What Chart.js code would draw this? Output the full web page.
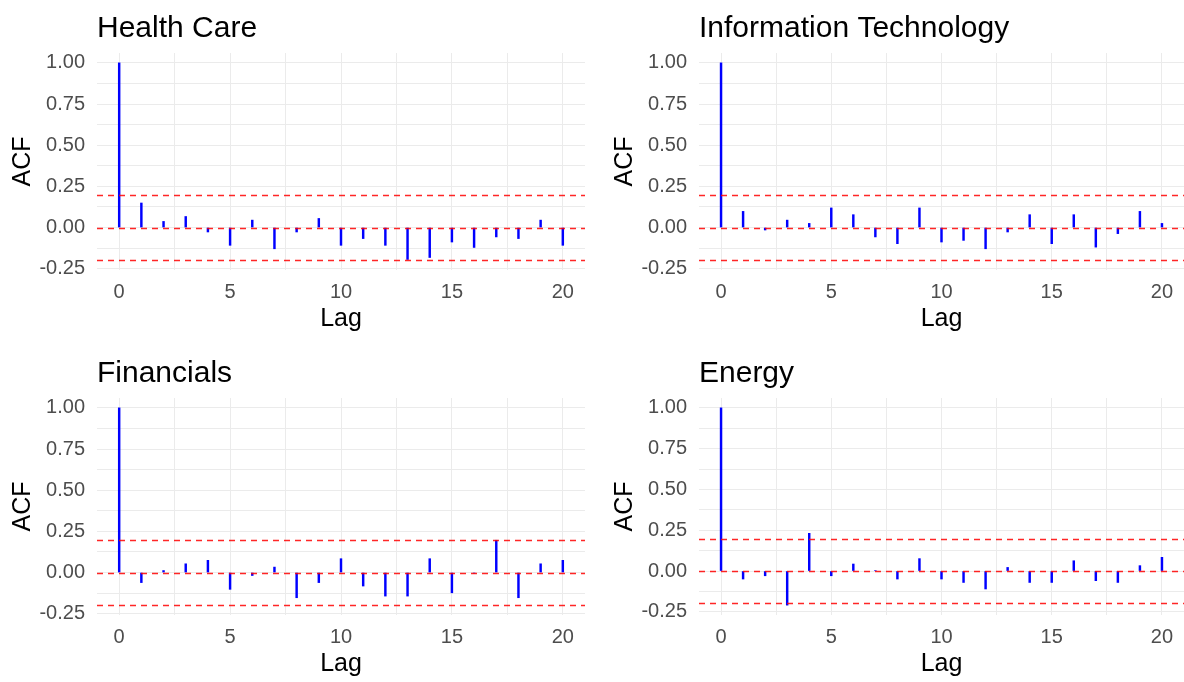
<!DOCTYPE html>
<html>
<head>
<meta charset="utf-8">
<title>ACF by sector</title>
<script src="https://cdn.jsdelivr.net/npm/chart.js@4.4.1/dist/chart.umd.min.js"></script>
<style>
  html, body { margin: 0; padding: 0; background: #ffffff; overflow: hidden; }
  .cell { position: absolute; }
</style>
</head>
<body>
<div class="cell" style="left:0px;top:0px"><canvas id="healthCareChart" width="592" height="341"></canvas></div>
<div class="cell" style="left:602px;top:0px"><canvas id="infoTechChart" width="582" height="341"></canvas></div>
<div class="cell" style="left:0px;top:345px"><canvas id="financialsChart" width="592" height="341"></canvas></div>
<div class="cell" style="left:602px;top:345px"><canvas id="energyChart" width="582" height="341"></canvas></div>

<script>
// lags and autocorrelations
var lags = [0, 1, 2, 3, 4, 5, 6, 7, 8, 9, 10, 11, 12, 13, 14, 15, 16, 17, 18, 19, 20];

var healthCare = [1.000, 0.149, 0.037, 0.067, -0.027, -0.108, 0.045, -0.129, -0.027, 0.055, -0.108,
                  -0.067, -0.108, -0.194, -0.182, -0.088, -0.121, -0.057, -0.067, 0.045, -0.108];
var infoTech = [1.000, 0.098, -0.015, 0.045, 0.025, 0.119, 0.078, -0.057, -0.098, 0.119, -0.088,
                -0.078, -0.129, -0.027, 0.078, -0.098, 0.078, -0.119, -0.037, 0.098, 0.025];
var financials = [1.000, -0.061, 0.012, 0.053, 0.074, -0.102, -0.018, 0.033, -0.153, -0.061, 0.084,
                  -0.082, -0.143, -0.143, 0.084, -0.123, -0.004, 0.196, -0.153, 0.053, 0.074];
var energy = [1.000, -0.049, -0.029, -0.209, 0.231, -0.029, 0.043, 0.003, -0.049, 0.076, -0.049,
              -0.070, -0.110, 0.022, -0.070, -0.070, 0.063, -0.059, -0.070, 0.033, 0.084];

// confidence bound (dashed red lines at +ci, 0, -ci)
var ciBound = 0.198;

var xTickLabels = [0, 5, 10, 15, 20];
var yTickLabels = [-0.25, 0, 0.25, 0.5, 0.75, 1];

var FONT = '"Liberation Sans", Arial, Helvetica, sans-serif';

// majors plus the midpoints between them (minor grid)
function withMinor(majors) {
    var out = [];
    for (var i = 0; i < majors.length; i++) {
        out.push(majors[i]);
        if (i < majors.length - 1) out.push((majors[i] + majors[i + 1]) / 2);
    }
    return out;
}

var refLinesPlugin = {
    id: 'refLines',
    afterDatasetsDraw: function (chart) {
        var ctx = chart.ctx;
        var area = chart.chartArea;
        var yScale = chart.scales.y;
        [ciBound, 0, -ciBound].forEach(function (v) {
            var y = Math.round(yScale.getPixelForValue(v)) + 0.5;
            ctx.save();
            ctx.strokeStyle = 'rgba(255, 0, 0, 0.85)';
            ctx.lineWidth = 1.6;
            ctx.setLineDash([6, 5]);
            ctx.beginPath();
            ctx.moveTo(area.left, y);
            ctx.lineTo(area.right, y);
            ctx.stroke();
            ctx.restore();
        });
    }
};

function makeAcfChart(canvasId, title, values, padRight) {
    var lo = Math.min(Math.min.apply(null, values), -ciBound);
    var hi = Math.max(Math.max.apply(null, values), ciBound);
    var yPad = (hi - lo) * 0.05;
    var xPad = (lags[lags.length - 1] - lags[0]) * 0.05;

    var xTicks = withMinor(xTickLabels);
    var yTicks = withMinor(yTickLabels);

    var ctx = document.getElementById(canvasId).getContext('2d');
    return new Chart(ctx, {
        type: 'bar',
        data: {
            datasets: [{
                label: title,
                data: lags.map(function (l, i) { return { x: l, y: values[i] }; }),
                backgroundColor: '#0000FF',
                borderWidth: 0,
                barThickness: 1.8
            }]
        },
        options: {
            responsive: false,
            animation: false,
            layout: { padding: { left: 0, right: padRight, top: 0, bottom: 0 } },
            plugins: {
                legend: { display: false },
                tooltip: { enabled: false },
                title: {
                    display: true,
                    text: title,
                    align: 'start',
                    fullSize: false,
                    color: '#000000',
                    font: { family: FONT, size: 30, weight: 'normal' },
                    padding: { top: 11, bottom: 6 }
                }
            },
            scales: {
                x: {
                    type: 'linear',
                    min: lags[0] - xPad,
                    max: lags[lags.length - 1] + xPad,
                    offset: false,
                    afterBuildTicks: function (scale) {
                        scale.ticks = xTicks.map(function (v) { return { value: v }; });
                    },
                    afterFit: function (scale) { scale.height = 71; },
                    ticks: {
                        autoSkip: false,
                        maxRotation: 0,
                        padding: 10,
                        color: '#4D4D4D',
                        font: { family: FONT, size: 20 },
                        callback: function (v) {
                            return xTickLabels.indexOf(v) >= 0 ? String(v) : '';
                        }
                    },
                    grid: { color: '#EBEBEB', lineWidth: 1, drawTicks: false, offset: false },
                    border: { display: false },
                    title: {
                        display: true,
                        text: 'Lag',
                        color: '#000000',
                        font: { family: FONT, size: 25 },
                        padding: { top: 0, bottom: 7 }
                    }
                },
                y: {
                    min: lo - yPad,
                    max: hi + yPad,
                    afterBuildTicks: function (scale) {
                        scale.ticks = yTicks.map(function (v) { return { value: v }; });
                    },
                    afterFit: function (scale) { scale.width = 97; },
                    ticks: {
                        autoSkip: false,
                        padding: 12,
                        color: '#4D4D4D',
                        font: { family: FONT, size: 20 },
                        callback: function (v) {
                            return yTickLabels.indexOf(v) >= 0 ? v.toFixed(2) : '';
                        }
                    },
                    grid: { color: '#EBEBEB', lineWidth: 1, drawTicks: false },
                    border: { display: false },
                    title: {
                        display: true,
                        text: 'ACF',
                        color: '#000000',
                        font: { family: FONT, size: 25 },
                        padding: { top: 8, bottom: 0 }
                    }
                }
            }
        },
        plugins: [refLinesPlugin]
    });
}

makeAcfChart('healthCareChart', 'Health Care', healthCare, 7);
makeAcfChart('infoTechChart', 'Information Technology', infoTech, 0);
makeAcfChart('financialsChart', 'Financials', financials, 7);
makeAcfChart('energyChart', 'Energy', energy, 0);
</script>
</body>
</html>
